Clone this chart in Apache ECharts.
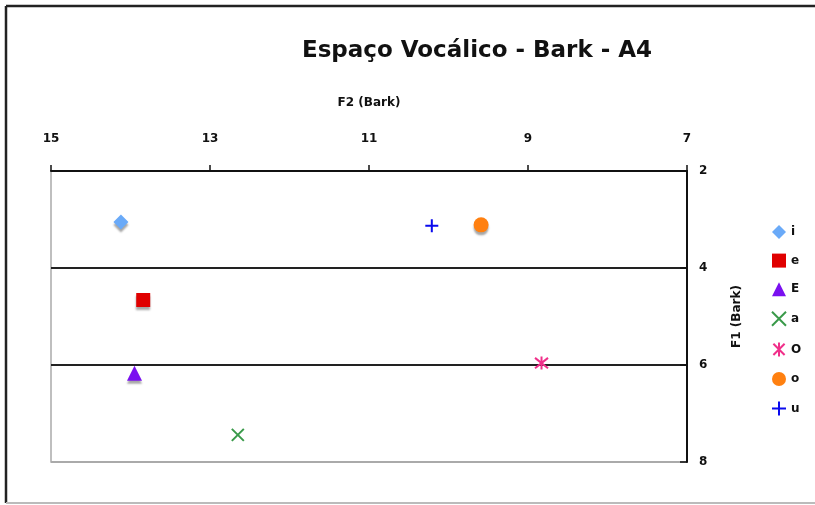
<!DOCTYPE html>
<html>
<head>
<meta charset="utf-8">
<script src="https://cdn.jsdelivr.net/npm/echarts@6/dist/echarts.min.js"></script>
<style>
  html, body { margin: 0; padding: 0; background: #fff; }
  #chart { width: 815px; height: 505px; }
</style>
</head>
<body>
<div id="chart"></div>
<script>
// vowel labels and their [F2, F1] positions in Bark
const vowels = ['i', 'e', 'E', 'a', 'O', 'o', 'u']
const f2Values = [14.12, 13.84, 13.95, 12.65, 8.83, 9.59, 10.21]
const f1Values = [3.05, 4.66, 6.17, 7.44, 5.96, 3.11, 3.13]
const xTicks = [7, 9, 11, 13, 15]
const yTicks = [2, 4, 6, 8]

const font = 'DejaVu Sans'
const markers = [
  { symbol: 'diamond', size: 15, color: '#6aaaf8' },
  { symbol: 'rect', size: 14, color: '#e00000' },
  { symbol: 'triangle', size: 15, color: '#7a10f0' },
  { symbol: 'path://M0,0L10,10M10,0L0,10', size: 12, color: '#3a9a4a', stroke: true },
  { symbol: 'path://M5,0L5,10M1,1L9,9M9,1L1,9', size: 13, color: '#f0308a', stroke: true },
  { symbol: 'circle', size: 15, color: '#ff8010' },
  { symbol: 'path://M5,0L5,10M0,5L10,5', size: 13, color: '#0a0aee', stroke: true }
]

const chart = echarts.init(document.getElementById('chart'))

const series = vowels.map((v, i) => {
  const m = markers[i]
  return {
    name: v,
    type: 'scatter',
    symbol: m.symbol,
    symbolSize: m.size,
    data: [[f2Values[i], f1Values[i]]],
    itemStyle: m.stroke
      ? { color: 'rgba(0,0,0,0)', borderColor: m.color, borderWidth: 2, opacity: 1 }
      : { color: m.color, opacity: 1, shadowColor: 'rgba(0,0,0,0.35)', shadowOffsetY: 3, shadowBlur: 2 }
  }
})

chart.setOption({
  animation: false,
  backgroundColor: '#fff',
  title: {
    text: 'Espaço Vocálico - Bark - A4',
    left: 472,
    top: 35,
    textAlign: 'center',
    textStyle: { fontFamily: font, fontSize: 23, fontWeight: 'bold', color: '#111' }
  },
  legend: {
    orient: 'vertical',
    left: 766,
    top: 220,
    itemWidth: 14,
    itemHeight: 14,
    itemGap: 14.6,
    textStyle: { fontFamily: font, fontSize: 12, fontWeight: 'bold', color: '#111' },
    data: vowels
  },
  grid: { left: 51, right: 128, top: 171, bottom: 43, show: true, borderColor: '#aaa', borderWidth: 1.5 },
  xAxis: {
    type: 'value',
    position: 'top',
    inverse: true,
    min: xTicks[0],
    max: xTicks[xTicks.length - 1],
    interval: 2,
    name: 'F2 (Bark)',
    nameLocation: 'middle',
    nameGap: 62,
    nameTextStyle: { fontFamily: font, fontSize: 12, fontWeight: 'bold', color: '#111' },
    axisLine: { show: true, lineStyle: { color: '#111', width: 2 } },
    axisTick: { show: true, length: 6, lineStyle: { color: '#111', width: 1.5 } },
    axisLabel: { fontFamily: font, fontSize: 12, fontWeight: 'bold', color: '#111', margin: 26 },
    splitLine: { show: false }
  },
  yAxis: {
    type: 'value',
    position: 'right',
    inverse: true,
    min: yTicks[0],
    max: yTicks[yTicks.length - 1],
    interval: 2,
    name: 'F1 (Bark)',
    nameLocation: 'middle',
    nameRotate: 90,
    nameGap: 44,
    nameTextStyle: { fontFamily: font, fontSize: 12, fontWeight: 'bold', color: '#111' },
    axisLine: { show: true, lineStyle: { color: '#111', width: 2 } },
    axisTick: { show: true, inside: true, length: 7, lineStyle: { color: '#111', width: 1.5 } },
    axisLabel: { fontFamily: font, fontSize: 12, fontWeight: 'bold', color: '#111', margin: 12 },
    splitLine: { show: true, lineStyle: { color: ['#111', '#222', '#222', '#aaa'], width: 2 } }
  },
  graphic: [
    { type: 'line', shape: { x1: 6, y1: 6, x2: 815, y2: 6 }, style: { stroke: '#222', lineWidth: 2.5 } },
    { type: 'line', shape: { x1: 6, y1: 6, x2: 6, y2: 503 }, style: { stroke: '#222', lineWidth: 2.5 } },
    { type: 'line', shape: { x1: 6, y1: 503, x2: 815, y2: 503 }, style: { stroke: '#bbb', lineWidth: 2 } }
  ],
  series: series
})
</script>
</body>
</html>
